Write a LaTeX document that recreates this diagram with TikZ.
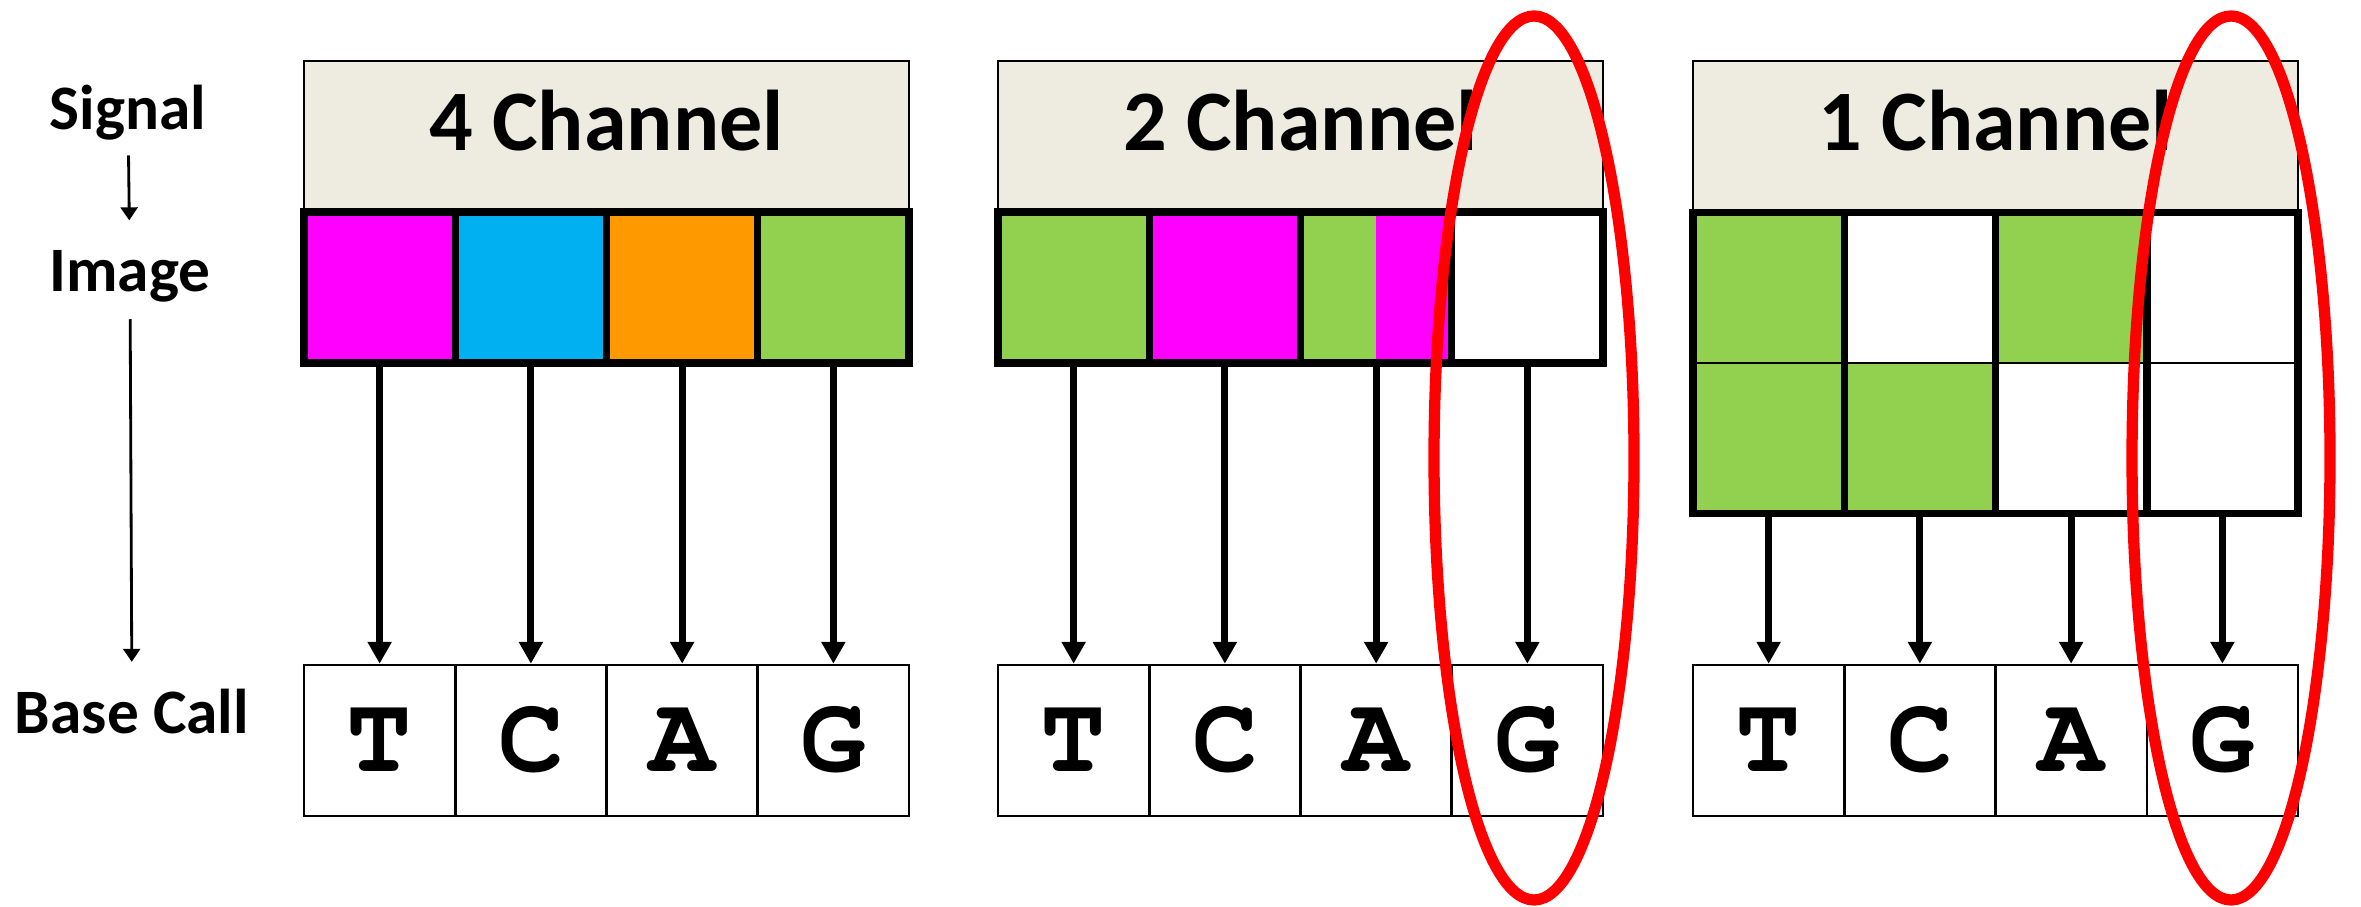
\documentclass[tikz,border=0pt]{standalone}
\usepackage[T1]{fontenc}
\usepackage{fontspec}
\setmainfont{Carlito}
\usetikzlibrary{arrows.meta}
\definecolor{fond}{RGB}{238,236,225}
\definecolor{mg}{RGB}{255,0,255}
\definecolor{cy}{RGB}{0,176,240}
\definecolor{og}{RGB}{255,153,0}
\definecolor{gr}{RGB}{146,208,80}
\definecolor{rg}{RGB}{255,0,0}
\newcommand{\lettre}{\fontencoding{T1}\fontfamily{pcr}\fontseries{b}\fontsize{31}{31}\selectfont}

\tikzset{
  entete/.style={draw=black, line width=0.5pt, fill=fond, minimum width=6.05cm, minimum height=1.51cm,
    inner sep=0pt, font=\fontsize{24.5}{28}\selectfont\bfseries, text height=8pt, text depth=0pt},
  case/.style={draw=black, line width=2.1pt, minimum width=1.5125cm, minimum height=1.51cm, inner sep=0pt},
  cellule/.style={minimum width=1.5125cm, minimum height=1.505cm, inner sep=0pt, outer sep=0pt},
  lettrebox/.style={draw=black, line width=0.7pt, minimum width=1.5125cm, minimum height=1.51cm,
    inner sep=0pt, font=\lettre, text height=17.6pt, text depth=0pt},
  fleche/.style={line width=2pt, -{Triangle[width=6.5pt,length=6.2pt]}},
  etiq/.style={font=\fontsize{18}{20}\selectfont\bfseries, inner sep=2pt},
  petite/.style={line width=0.8pt, -{Triangle[width=4.8pt,length=3.7pt]}},
  cercle/.style={draw=rg, line width=3.2pt},
  moitie/.style={fill=mg, path picture={\fill[gr] (path picture bounding box.north west) rectangle (path picture bounding box.south);}}
}

\begin{document}
\begin{tikzpicture}[x=0.01cm,y=-0.01cm]
\useasboundingbox (0,0) rectangle (2361,907);

% les etapes a gauche
\node[etiq, anchor=base] (sig) at (128,130) {Signal};
\node[etiq, anchor=base] (img) at (130,292) {Image};
\node[etiq, anchor=base] (appel) at (132,733) {Base Call};
\draw[petite, shorten <=2pt, shorten >=6.5pt] (sig) -- (img);
\draw[petite, shorten <=2.5pt, shorten >=5.4pt] (img) -- (appel);

% entetes et bases appelees
\foreach \pan/\xx/\nb in {A/304/4, B/998/2, C/1693/1}{
  \node[entete] (h\pan) at (\xx+302.5,136.5) {\nb\ Channel};
  \foreach \k/\l in {1/T, 2/C, 3/A, 4/G}
    \node[lettrebox] (b\pan\k) at (\xx+151.25*\k-75.625,740.5) {\l};
}

% 4 canaux
\foreach \k/\c in {1/mg, 2/cy, 3/og, 4/gr}
  \node[case, fill=\c] (iA\k) at (304+151.25*\k-75.625,287.5) {};

% 2 canaux
\node[case, fill=gr] (iB1) at (1073.625,287.5) {};
\node[case, fill=mg] (iB2) at (1224.875,287.5) {};
\node[case, moitie] (iB3) at (1376.125,287.5) {};
\node[case, fill=white] (iB4) at (1527.375,287.5) {};

% 1 canal, deux images
\foreach \k/\c/\d in {1/gr/gr, 2/white/gr, 3/gr/white, 4/white/white}{
  \node[cellule, fill=\c] (cC1\k) at (1693+151.25*\k-75.625,287.5) {};
  \node[cellule, fill=\d] (cC2\k) at (1693+151.25*\k-75.625,438) {};
}
\draw[line width=2.1pt] (cC11.north west) rectangle (cC24.south east);
\foreach \k in {1,2,3}
  \draw[line width=2.1pt] (cC1\k.north east) -- (cC2\k.south east);
\draw[line width=0.7pt] (cC11.south west) -- (cC14.south east);

% fleches vers les bases
\foreach \pan in {A,B}
  \foreach \k in {1,...,4}
    \draw[fleche] (i\pan\k) -- (b\pan\k);
\foreach \k in {1,...,4}
  \draw[fleche] (cC2\k) -- (bC\k);

% le G entoure
\draw[cercle] (1534,458) ellipse [x radius=100, y radius=442];
\draw[cercle] (2231,458) ellipse [x radius=99, y radius=442];
\end{tikzpicture}
\end{document}
